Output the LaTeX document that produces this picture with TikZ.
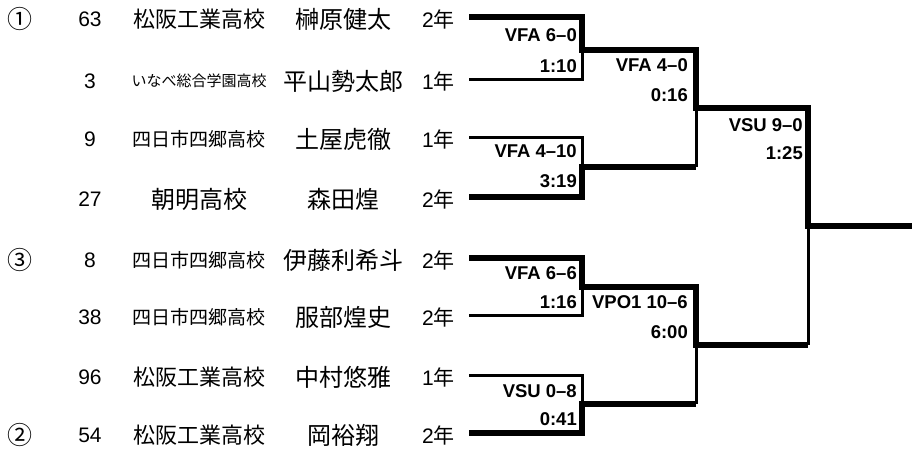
\documentclass[tikz,border=0pt]{standalone}
\usepackage{fontspec}
\setmainfont{Liberation Sans}
\newfontfamily\cjk{Noto Sans CJK JP}
\usetikzlibrary{calc}

\begin{document}
\begin{tikzpicture}[x=1pt,y=-1pt, line join=miter]
	% ===== 枠 =====
	\useasboundingbox (0,0) rectangle (912,448);
	
	% ===== style =====
	\tikzset{
		pnum/.style={inner sep=0pt, font=\fontsize{21}{21}\selectfont},
		school/.style={inner sep=0pt, font=\cjk\fontsize{#1}{#1}\selectfont},
		pname/.style={inner sep=0pt, font=\cjk\fontsize{24}{24}\selectfont},
		grade/.style={inner sep=0pt, anchor=east, font=\fontsize{21}{21}\selectfont},
		seed/.style={inner sep=0pt, font=\cjk\fontsize{25}{25}\selectfont},
		res/.style={inner sep=1pt, anchor=east, font=\bfseries\fontsize{18.5}{18.5}\selectfont},
		win/.style={line width=6pt},
		lose/.style={line width=3pt}
	}
	
	% ===== 選手 =====
	\foreach \y/\num/\sch/\fs/\nm/\gr [count=\i] in {
		17/63/松阪工業高校/22/榊原健太/2,
		79/3/いなべ総合学園高校/15/平山勢太郎/1,
		137/9/四日市四郷高校/19/土屋虎徹/1,
		197/27/朝明高校/24/森田煌/2,
		258/8/四日市四郷高校/19/伊藤利希斗/2,
		315/38/四日市四郷高校/19/服部煌史/2,
		375/96/松阪工業高校/22/中村悠雅/1,
		433/54/松阪工業高校/22/岡裕翔/2}{
		\node[pnum] (n\i) at (90,\y+2.5) {\num};
		\node[school=\fs] (s\i) at (199,\y+2) {\sch};
		\node[pname] (p\i) at (343,\y+2) {\nm};
		\node[grade] (g\i) at (455,\y+2) {\gr{\cjk 年}};
		\coordinate (e\i) at (469,\y);
	}
	
	% ===== シード =====
	\node[seed] (c1) at (20,19) {①};
	\node[seed] (c3) at (20,260) {③};
	\node[seed] (c2) at (20,435) {②};
	
	% ===== 組合せ =====
	\coordinate (m1) at (582,49.5);
	\coordinate (m2) at (582,167);
	\coordinate (m3) at (582,286.5);
	\coordinate (m4) at (582,404);
	\coordinate (r1) at (696,108);
	\coordinate (r2) at (696,344.5);
	\coordinate (f) at (808,226);
	\coordinate (fin) at (912,226);
	
	\draw[win] (e1) -| (m1) -| (r1) -| (f) -- (fin);
	\draw[lose] (e2) -| (m1);
	\draw[lose] (e3) -| (m2);
	\draw[win] (e4) -| (m2) -- (m2 -| r1);
	\draw[lose] (m2 -| r1) -- (r1);
	\draw[win] (e5) -| (m3) -| (r2) -- (r2 -| f);
	\draw[lose] (r2 -| f) -- (f);
	\draw[lose] (e6) -| (m3);
	\draw[lose] (e7) -| (m4);
	\draw[win] (e8) -| (m4) -- (m4 -| r2);
	\draw[lose] (m4 -| r2) -- (r2);
	
	% ===== 結果 =====
	\node[res] (a1) at (578,35.5) {VFA 6–0};
	\node[res] (b1) at (578,66) {1:10};
	\node[res] (a2) at (578,151.5) {VFA 4–10};
	\node[res] (b2) at (578,181.5) {3:19};
	\node[res] (a3) at (578,273) {VFA 6–6};
	\node[res] (b3) at (578,302) {1:16};
	\node[res] (a4) at (578,391) {VSU 0–8};
	\node[res] (b4) at (578,419) {0:41};
	\node[res] (a5) at (689,65) {VFA 4–0};
	\node[res] (b5) at (689,95) {0:16};
	\node[res] (a6) at (689,302) {VPO1 10–6};
	\node[res] (b6) at (689,332) {6:00};
	\node[res] (a7) at (804,125) {VSU 9–0};
	\node[res] (b7) at (804,153) {1:25};
\end{tikzpicture}
\end{document}
